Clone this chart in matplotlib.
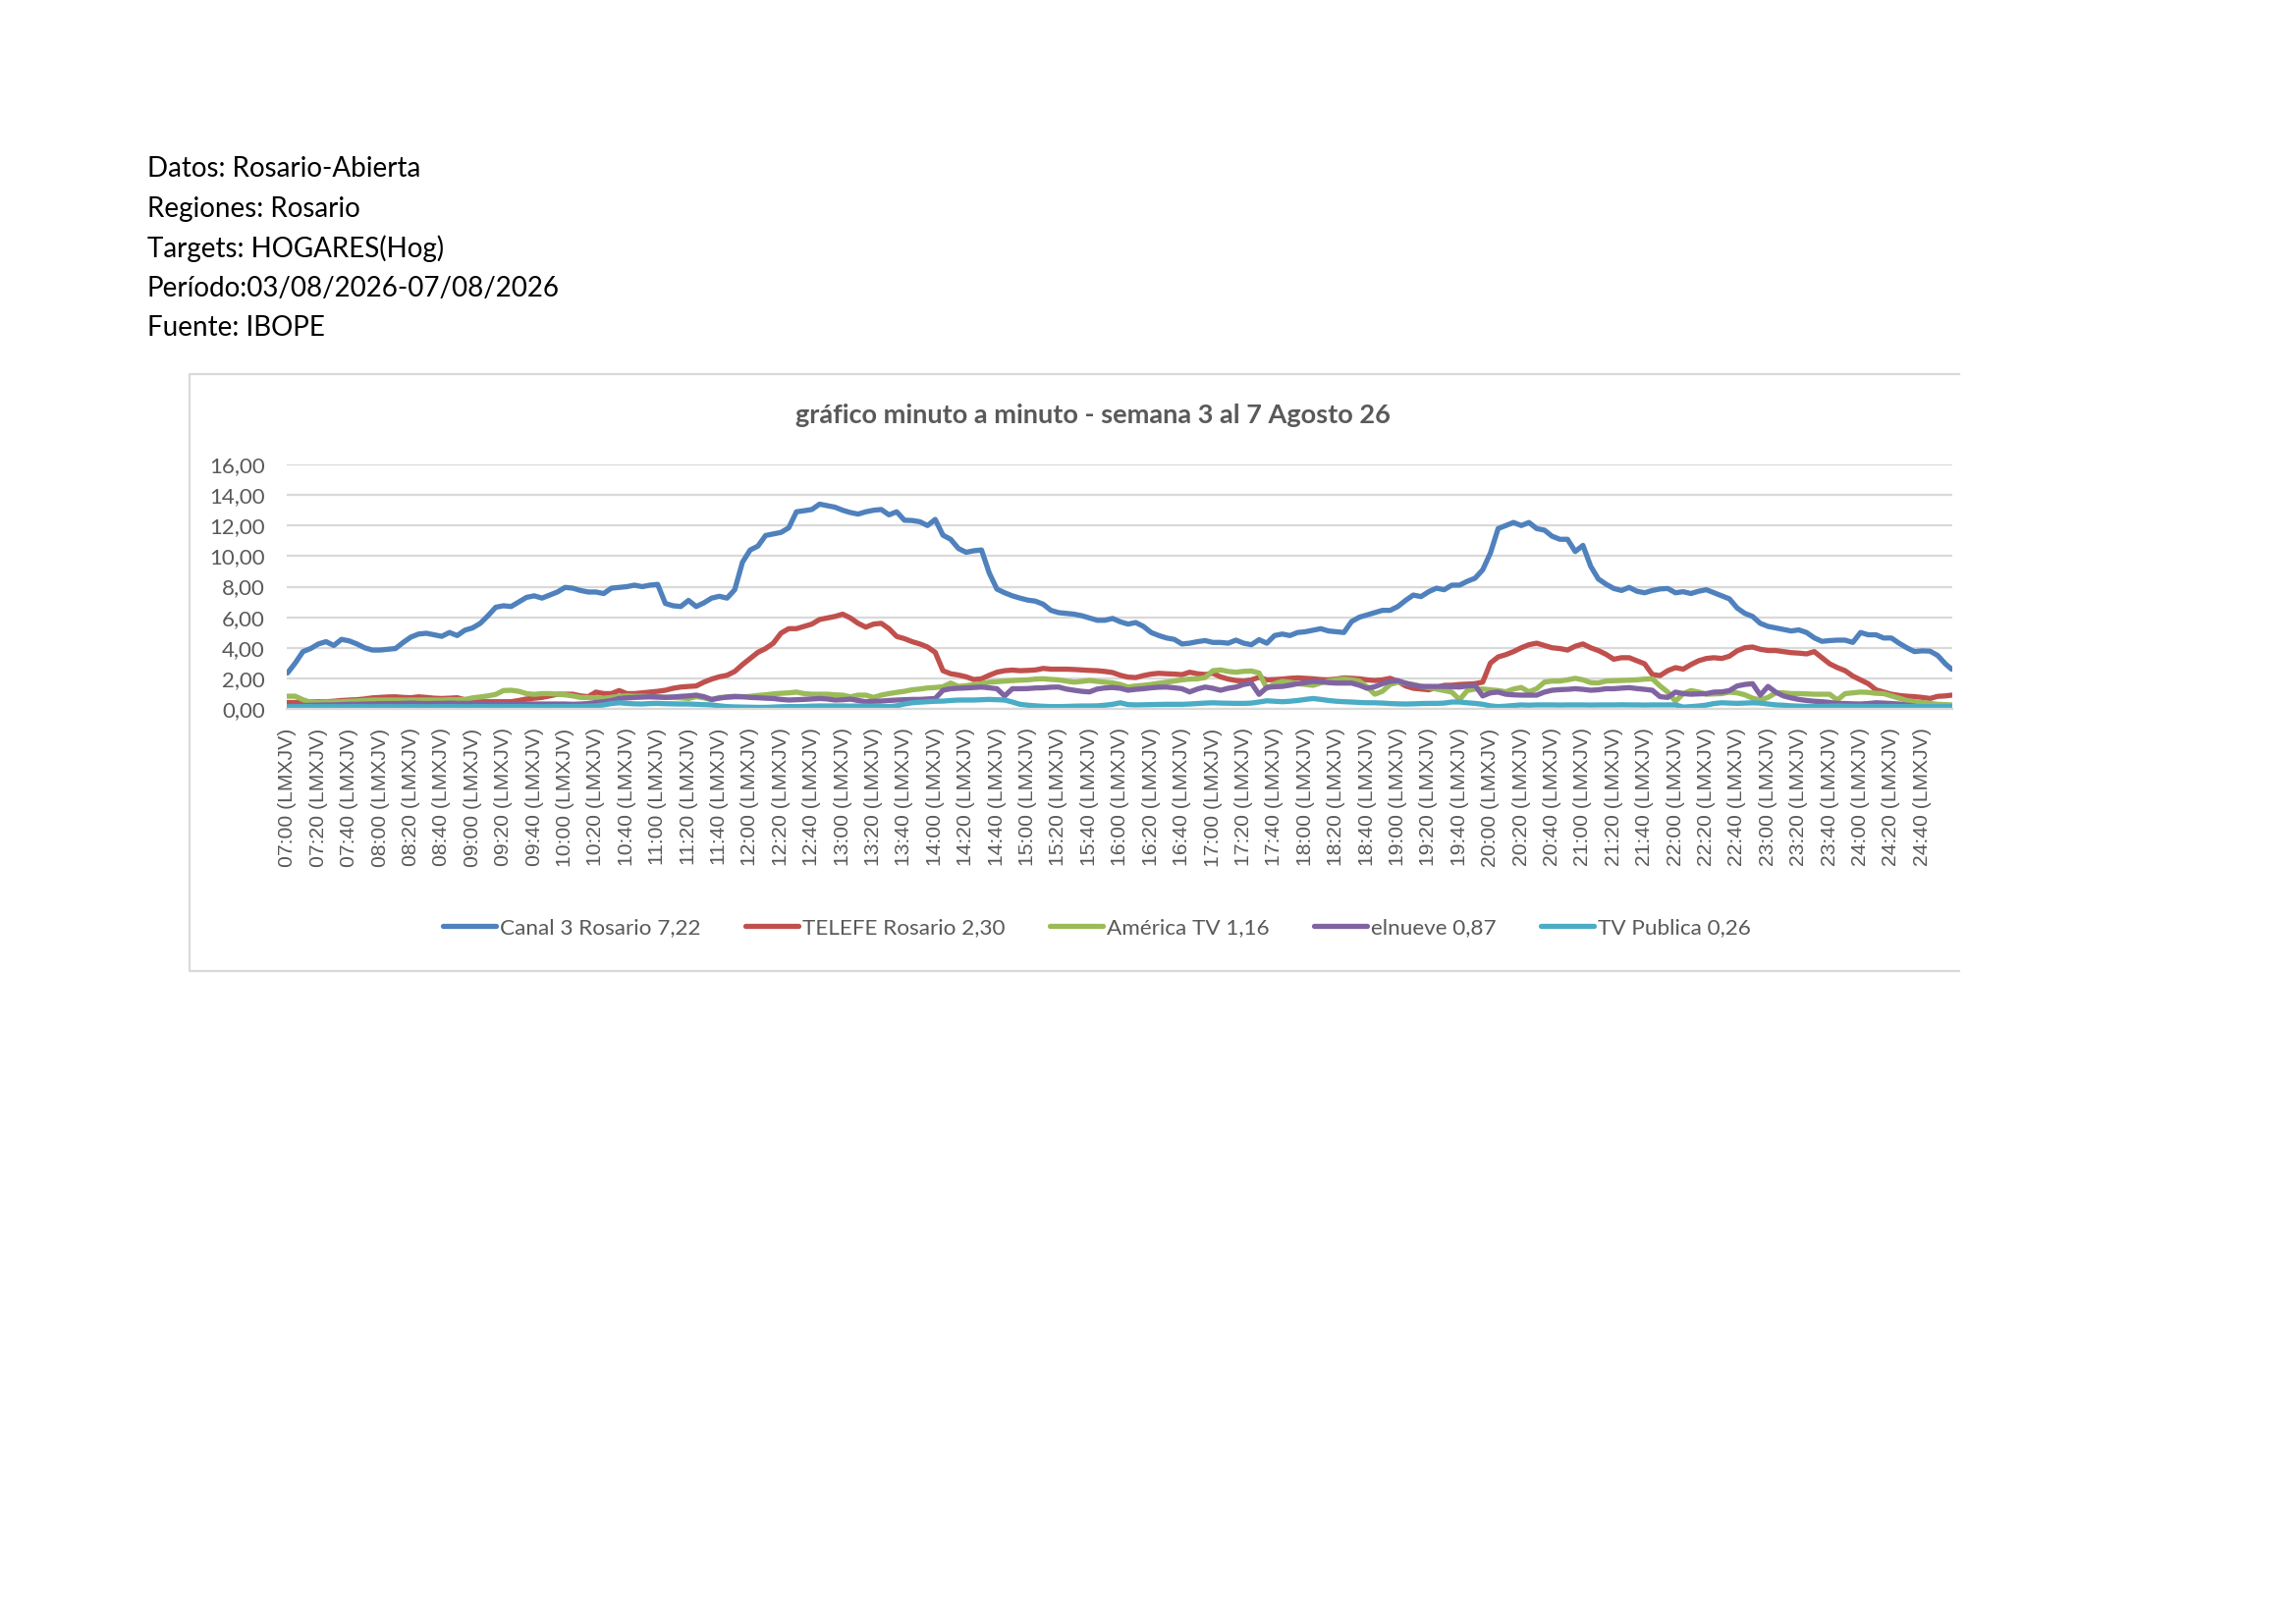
import numpy as np
import matplotlib
matplotlib.use('Agg')
import matplotlib.pyplot as plt
from matplotlib.lines import Line2D

# minutos desde las 07:00, una lectura cada 5 minutos (la ultima 24:59)
minutos = list(range(0, 1080, 5)) + [1079]

canal3 = [
    2.35, 3.0, 3.75, 3.95, 4.25, 4.4, 4.15, 4.55, 4.45, 4.25, 4.0, 3.85,
    3.85, 3.9, 3.95, 4.35, 4.7, 4.9, 4.95, 4.85, 4.75, 5.0, 4.8, 5.15,
    5.3, 5.6, 6.1, 6.65, 6.75, 6.7, 7.0, 7.3, 7.4, 7.25, 7.45, 7.65,
    7.95, 7.9, 7.75, 7.65, 7.65, 7.55, 7.9, 7.95, 8.0, 8.1, 8.0, 8.1,
    8.15, 6.9, 6.75, 6.7, 7.1, 6.7, 6.94, 7.25, 7.37, 7.25, 7.8, 9.6,
    10.4, 10.65, 11.35, 11.45, 11.55, 11.85, 12.9, 12.97, 13.05, 13.4, 13.3, 13.2,
    13.0, 12.85, 12.75, 12.9, 13.0, 13.05, 12.7, 12.9, 12.35, 12.33, 12.25, 12.0,
    12.4, 11.37, 11.1, 10.5, 10.25, 10.35, 10.4, 8.9, 7.84, 7.6, 7.4, 7.25,
    7.12, 7.05, 6.85, 6.45, 6.3, 6.25, 6.2, 6.1, 5.95, 5.8, 5.8, 5.92,
    5.7, 5.55, 5.65, 5.4, 5.0, 4.8, 4.64, 4.55, 4.25, 4.3, 4.4, 4.47,
    4.35, 4.35, 4.3, 4.5, 4.3, 4.2, 4.53, 4.3, 4.8, 4.9, 4.8, 5.0,
    5.05, 5.15, 5.25, 5.1, 5.05, 5.0, 5.72, 6.0, 6.15, 6.3, 6.45, 6.45,
    6.7, 7.1, 7.45, 7.35, 7.67, 7.9, 7.8, 8.1, 8.1, 8.35, 8.55, 9.1,
    10.2, 11.8, 12.0, 12.2, 12.0, 12.2, 11.8, 11.7, 11.3, 11.1, 11.1, 10.3,
    10.7, 9.34, 8.5, 8.16, 7.88, 7.75, 7.95, 7.7, 7.6, 7.75, 7.85, 7.88,
    7.6, 7.67, 7.55, 7.7, 7.8, 7.6, 7.4, 7.2, 6.6, 6.25, 6.05, 5.6,
    5.4, 5.3, 5.2, 5.1, 5.17, 5.0, 4.65, 4.42, 4.47, 4.5, 4.5, 4.35,
    5.0, 4.85, 4.85, 4.64, 4.64, 4.3, 4.0, 3.75, 3.8, 3.78, 3.5, 2.95,
    2.6]

telefe = [
    0.42, 0.42, 0.45, 0.45, 0.47, 0.47, 0.5, 0.55, 0.58, 0.6, 0.65, 0.72,
    0.75, 0.78, 0.79, 0.75, 0.73, 0.79, 0.75, 0.7, 0.68, 0.7, 0.73, 0.6,
    0.5, 0.47, 0.47, 0.47, 0.47, 0.47, 0.55, 0.65, 0.7, 0.75, 0.85, 0.96,
    0.96, 0.96, 0.85, 0.8, 1.1, 1.0, 1.0, 1.2, 1.0, 1.0, 1.05, 1.1,
    1.15, 1.22, 1.35, 1.43, 1.47, 1.5, 1.75, 1.95, 2.1, 2.2, 2.45, 2.9,
    3.3, 3.7, 3.95, 4.3, 4.96, 5.25, 5.25, 5.4, 5.55, 5.85, 5.95, 6.05,
    6.2, 5.95, 5.6, 5.35, 5.55, 5.6, 5.25, 4.74, 4.6, 4.4, 4.25, 4.05,
    3.7, 2.5, 2.3, 2.22, 2.1, 1.92, 1.97, 2.2, 2.4, 2.5, 2.54, 2.5,
    2.52, 2.55, 2.65, 2.6, 2.6, 2.6, 2.58, 2.55, 2.52, 2.5, 2.45, 2.38,
    2.2, 2.08, 2.05, 2.18, 2.28, 2.33, 2.3, 2.28, 2.24, 2.4, 2.3, 2.25,
    2.33, 2.1, 1.95, 1.86, 1.82, 1.9, 2.07, 1.9, 1.92, 1.95, 2.0, 2.03,
    2.0, 1.97, 1.92, 1.9, 1.95, 2.03, 2.0, 1.97, 1.9, 1.86, 1.9, 2.0,
    1.8, 1.5, 1.35, 1.3, 1.25, 1.4, 1.54, 1.55, 1.6, 1.62, 1.65, 1.75,
    3.0, 3.4, 3.55, 3.75, 4.0, 4.2, 4.3, 4.15, 4.0, 3.95, 3.85, 4.1,
    4.25, 4.0, 3.82, 3.57, 3.25, 3.35, 3.35, 3.15, 2.95, 2.25, 2.18, 2.5,
    2.7, 2.6, 2.9, 3.15, 3.3, 3.35, 3.3, 3.45, 3.8, 4.0, 4.05, 3.9,
    3.82, 3.82, 3.75, 3.68, 3.65, 3.6, 3.75, 3.35, 2.95, 2.7, 2.5, 2.15,
    1.9, 1.65, 1.25, 1.1, 0.96, 0.88, 0.83, 0.8, 0.75, 0.68, 0.82, 0.85,
    0.9]

america = [
    0.83, 0.83, 0.6, 0.43, 0.43, 0.45, 0.45, 0.47, 0.5, 0.52, 0.55, 0.58,
    0.58, 0.58, 0.58, 0.58, 0.58, 0.58, 0.58, 0.58, 0.58, 0.6, 0.6, 0.62,
    0.72, 0.78, 0.85, 0.95, 1.2, 1.22, 1.15, 1.0, 0.95, 1.0, 1.0, 0.96,
    0.92, 0.85, 0.75, 0.74, 0.73, 0.7, 0.75, 0.82, 0.85, 0.83, 0.83, 0.8,
    0.78, 0.76, 0.75, 0.72, 0.68, 0.8, 0.72, 0.6, 0.75, 0.75, 0.78, 0.79,
    0.82, 0.88, 0.92, 0.98, 1.02, 1.05, 1.1, 1.0, 0.96, 0.96, 0.96, 0.92,
    0.9, 0.79, 0.9, 0.9, 0.75, 0.9, 1.0, 1.08, 1.15, 1.25, 1.3, 1.37,
    1.4, 1.45, 1.69, 1.47, 1.52, 1.58, 1.65, 1.75, 1.78, 1.82, 1.85, 1.88,
    1.9, 1.95, 1.97, 1.93, 1.9, 1.82, 1.75, 1.8, 1.86, 1.8, 1.75, 1.7,
    1.6, 1.43, 1.5, 1.54, 1.6, 1.68, 1.75, 1.82, 1.9, 1.95, 1.97, 2.05,
    2.5, 2.55, 2.45, 2.4, 2.46, 2.48, 2.35, 1.35, 1.65, 1.8, 1.75, 1.65,
    1.6, 1.54, 1.7, 1.82, 1.9, 1.97, 1.9, 1.82, 1.45, 0.96, 1.15, 1.6,
    1.75, 1.68, 1.6, 1.48, 1.4, 1.3, 1.2, 1.1, 0.6, 1.2, 1.3, 1.3,
    1.25, 1.2, 1.12, 1.3, 1.4, 1.12, 1.32, 1.75, 1.82, 1.82, 1.9, 2.0,
    1.9, 1.72, 1.7, 1.82, 1.84, 1.86, 1.88, 1.9, 1.95, 1.97, 1.5, 1.1,
    0.5, 1.0, 1.2, 1.1, 0.96, 0.98, 1.0, 1.1, 1.05, 0.92, 0.7, 0.58,
    0.75, 1.05, 1.05, 1.0, 1.0, 0.98, 0.96, 0.96, 0.96, 0.58, 1.0, 1.05,
    1.1, 1.08, 1.02, 1.0, 0.85, 0.7, 0.55, 0.47, 0.42, 0.36, 0.3, 0.28,
    0.26]

elnueve = [
    0.22, 0.22, 0.22, 0.24, 0.25, 0.26, 0.26, 0.28, 0.3, 0.3, 0.32, 0.33,
    0.34, 0.35, 0.35, 0.36, 0.38, 0.36, 0.35, 0.36, 0.36, 0.38, 0.36, 0.36,
    0.36, 0.36, 0.35, 0.34, 0.33, 0.32, 0.33, 0.33, 0.32, 0.32, 0.32, 0.32,
    0.32, 0.3, 0.32, 0.35, 0.42, 0.47, 0.55, 0.68, 0.72, 0.75, 0.77, 0.79,
    0.78, 0.75, 0.78, 0.82, 0.85, 0.9, 0.8, 0.62, 0.7, 0.78, 0.82, 0.8,
    0.75, 0.73, 0.7, 0.68, 0.62, 0.58, 0.6, 0.62, 0.65, 0.68, 0.65, 0.58,
    0.6, 0.64, 0.55, 0.47, 0.5, 0.51, 0.55, 0.58, 0.6, 0.62, 0.62, 0.65,
    0.68, 1.22, 1.32, 1.35, 1.37, 1.4, 1.43, 1.38, 1.32, 0.85, 1.32, 1.32,
    1.33, 1.37, 1.38, 1.42, 1.43, 1.3, 1.22, 1.15, 1.11, 1.3, 1.37, 1.4,
    1.35, 1.22, 1.28, 1.32, 1.38, 1.42, 1.43, 1.38, 1.32, 1.11, 1.3, 1.43,
    1.35, 1.22, 1.35, 1.43, 1.6, 1.69, 0.95, 1.4, 1.45, 1.47, 1.55, 1.65,
    1.72, 1.8, 1.78, 1.72, 1.69, 1.69, 1.69, 1.55, 1.35, 1.45, 1.65, 1.8,
    1.85, 1.68, 1.55, 1.47, 1.47, 1.47, 1.47, 1.45, 1.43, 1.5, 1.54, 0.85,
    1.05, 1.1, 0.96, 0.92, 0.9, 0.9, 0.9, 1.1, 1.22, 1.26, 1.28, 1.32,
    1.28, 1.22, 1.25, 1.32, 1.32, 1.36, 1.39, 1.33, 1.28, 1.22, 0.8, 0.75,
    1.1, 1.0, 0.96, 0.98, 1.0, 1.1, 1.11, 1.2, 1.5, 1.6, 1.65, 0.9,
    1.47, 1.1, 0.85, 0.72, 0.62, 0.55, 0.5, 0.47, 0.42, 0.36, 0.35, 0.33,
    0.32, 0.35, 0.4, 0.38, 0.35, 0.32, 0.25, 0.18, 0.12, 0.1, 0.05, 0.02,
    0.0]

tvpublica = [
    0.15, 0.14, 0.15, 0.15, 0.14, 0.15, 0.15, 0.14, 0.15, 0.15, 0.15, 0.14,
    0.15, 0.15, 0.14, 0.15, 0.15, 0.15, 0.14, 0.15, 0.15, 0.15, 0.15, 0.14,
    0.15, 0.15, 0.15, 0.14, 0.15, 0.15, 0.15, 0.15, 0.15, 0.14, 0.15, 0.15,
    0.15, 0.16, 0.16, 0.18, 0.2, 0.26, 0.35, 0.4, 0.36, 0.33, 0.32, 0.35,
    0.36, 0.34, 0.33, 0.32, 0.32, 0.3, 0.28, 0.26, 0.2, 0.15, 0.13, 0.12,
    0.11, 0.1, 0.1, 0.12, 0.14, 0.15, 0.15, 0.16, 0.18, 0.19, 0.19, 0.19,
    0.19, 0.18, 0.19, 0.19, 0.17, 0.15, 0.15, 0.2, 0.32, 0.4, 0.44, 0.47,
    0.5, 0.51, 0.55, 0.58, 0.58, 0.58, 0.6, 0.62, 0.6, 0.58, 0.45, 0.3,
    0.24, 0.2, 0.17, 0.15, 0.15, 0.16, 0.18, 0.19, 0.19, 0.2, 0.24, 0.3,
    0.4, 0.28, 0.26, 0.27, 0.28, 0.29, 0.3, 0.3, 0.3, 0.32, 0.35, 0.38,
    0.4, 0.38, 0.37, 0.36, 0.36, 0.38, 0.45, 0.53, 0.5, 0.47, 0.5, 0.55,
    0.62, 0.68, 0.62, 0.55, 0.5, 0.47, 0.45, 0.42, 0.4, 0.4, 0.38, 0.35,
    0.33, 0.32, 0.33, 0.35, 0.36, 0.36, 0.38, 0.45, 0.45, 0.4, 0.36, 0.3,
    0.2, 0.15, 0.18, 0.22, 0.26, 0.24, 0.26, 0.26, 0.26, 0.25, 0.26, 0.26,
    0.26, 0.25, 0.26, 0.26, 0.26, 0.27, 0.26, 0.26, 0.25, 0.26, 0.26, 0.26,
    0.26, 0.12, 0.15, 0.19, 0.25, 0.35, 0.4, 0.38, 0.36, 0.38, 0.4, 0.38,
    0.32, 0.26, 0.24, 0.2, 0.18, 0.16, 0.15, 0.16, 0.18, 0.19, 0.18, 0.17,
    0.17, 0.16, 0.15, 0.15, 0.16, 0.15, 0.15, 0.15, 0.15, 0.15, 0.15, 0.15,
    0.15]

nombres = ['Canal 3 Rosario 7,22', 'TELEFE Rosario 2,30', 'América TV 1,16',
           'elnueve 0,87', 'TV Publica 0,26']
colores = ['#4F81BD', '#C0504D', '#9BBB59', '#8064A2', '#4BACC6']

encabezado = ['Datos: Rosario-Abierta', 'Regiones: Rosario', 'Targets: HOGARES(Hog)',
              'Período:03/08/2026-07/08/2026', 'Fuente: IBOPE']
titulo = 'gráfico minuto a minuto - semana 3 al 7 Agosto 26'

pos_ticks = list(range(0, 1080, 20))
etiquetas = ['%02d:%02d (LMXJV)' % (7 + m // 60, m % 60) for m in pos_ticks]

gris = '#595959'
fuente = ['Lato', 'DejaVu Sans']
W, H = 2338, 1653

fig = plt.figure(figsize=(11.69, 8.265), dpi=200)

# header lines
for i, txt in enumerate(encabezado):
    fig.text(150 / W, 1 - (172 + 40.6 * i) / H, txt, fontsize=10.0,
             family=fuente, color='black', va='center', ha='left')

# chart frame: the right side is cut off by the page, so only left/top/bottom
x0, x1, y0, y1 = 193 / W, 1995 / W, 1 - 989 / H, 1 - 381 / H
frame = Line2D([x1, x0, x0, x1], [y1, y1, y0, y0], transform=fig.transFigure,
               color='#D9D9D9', linewidth=0.8)
fig.lines.append(frame)

fig.text(1113 / W, 1 - 423 / H, titulo, fontsize=9.75, fontweight='bold',
         family=fuente, color=gris, ha='center', va='center')

ax = fig.add_axes([292 / W, 1 - 722 / H, 1696 / W, 249 / H])

series = [canal3, telefe, america, elnueve, tvpublica]
lineas = []
for nombre, valores, color in zip(nombres, series, colores):
    ln, = ax.plot(minutos, valores, color=color, linewidth=1.9, label=nombre,
                  solid_joinstyle='round', solid_capstyle='round')
    lineas.append(ln)

ax.set_xlim(-0.5, 1079.5)
ax.set_ylim(0, 16)
yt = np.arange(0, 17, 2)
ax.set_yticks(yt)
ax.set_yticklabels([('%.2f' % v).replace('.', ',') for v in yt],
                   family=fuente, fontsize=8, color=gris)
ax.set_xticks(pos_ticks)
ax.set_xticklabels(etiquetas, rotation=90, family=['Liberation Sans', 'DejaVu Sans'],
                   fontsize=7.6, color=gris)
ax.tick_params(axis='both', length=0)
ax.tick_params(axis='y', pad=8)
ax.tick_params(axis='x', pad=7)
ax.grid(axis='y', color='#D9D9D9', linewidth=0.8)
ax.set_axisbelow(True)
for s in ['top', 'right', 'left']:
    ax.spines[s].set_visible(False)
ax.spines['bottom'].set_color('#D9D9D9')
ax.spines['bottom'].set_linewidth(0.8)

leg = fig.legend(handles=lineas, loc='center', bbox_to_anchor=(1117 / W, 1 - 945 / H),
                 ncol=5, frameon=False, handlelength=2.4, handletextpad=0.2,
                 columnspacing=2.0, prop={'family': fuente, 'size': 8.1})
for t in leg.get_texts():
    t.set_color(gris)

fig.savefig('out.png', dpi=200, facecolor='white')
